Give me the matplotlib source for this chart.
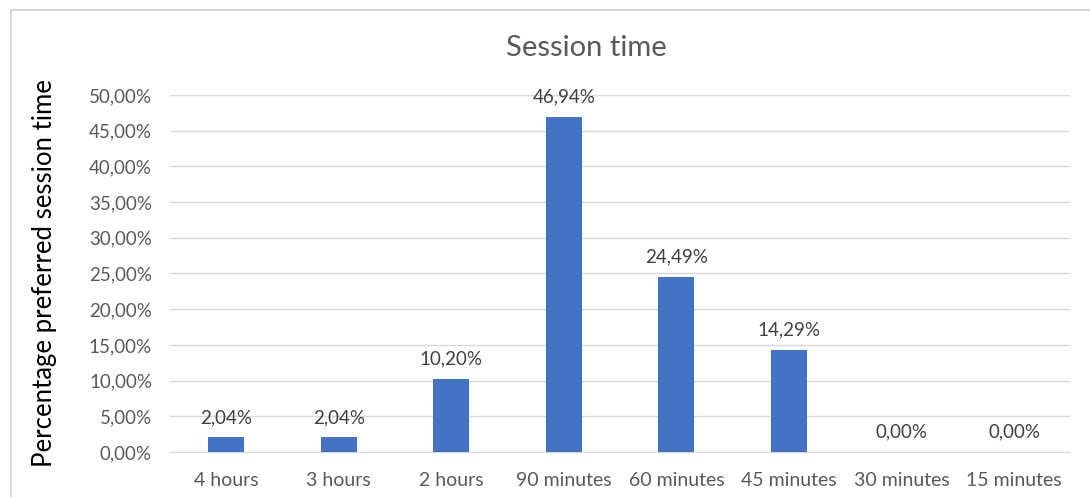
import matplotlib.pyplot as plt
from matplotlib.patches import Rectangle
from matplotlib.ticker import MultipleLocator, FuncFormatter

categories = ["4 hours", "3 hours", "2 hours", "90 minutes", "60 minutes",
              "45 minutes", "30 minutes", "15 minutes"]
values = [2.04, 2.04, 10.20, 46.94, 24.49, 14.29, 0.00, 0.00]

plt.rcParams['font.family'] = ['Lato', 'DejaVu Sans']

fig = plt.figure(figsize=(10.9, 4.97), dpi=100)
ax = fig.add_axes([0.156, 0.0905, 0.826, 0.7185])

# chart frame like the spreadsheet export
fig.patches.append(Rectangle((11 / 1090, -0.1), 1.2, 1.1 - 10 / 497,
                             transform=fig.transFigure, fill=False,
                             edgecolor="#d0d0d0", linewidth=1.2))

x = range(len(categories))
ax.bar(x, values, width=0.32, color="#4472c4", zorder=3)

for i, v in zip(x, values):
    ax.text(i, v + 1.6, f"{v:.2f}%".replace(".", ","), ha="center", va="bottom",
            fontsize=13.5, color="#404040")

ax.set_xlim(-0.5, len(categories) - 0.5)
ax.set_ylim(0, 50)
ax.yaxis.set_major_locator(MultipleLocator(5))
ax.yaxis.set_major_formatter(FuncFormatter(lambda v, p: f"{v:.2f}%".replace(".", ",")))
ax.set_xticks(list(x))
ax.set_xticklabels(categories)
ax.tick_params(axis="both", length=0, labelsize=13.5, labelcolor="#595959")
ax.tick_params(axis="x", labelsize=14, pad=14.5)
ax.tick_params(axis="y", pad=13)
ax.grid(axis="y", color="#d9d9d9", linewidth=1, zorder=0)
for s in ["top", "right", "left"]:
    ax.spines[s].set_visible(False)
ax.spines["bottom"].set_color("#d9d9d9")

ax.set_ylabel("Percentage preferred session time", fontsize=18.5, color="#000000")
ax.yaxis.set_label_coords((57 - 170) / (0.826 * 1090), 0.5)
fig.text(586 / 1090, 1 - 48 / 497, "Session time", ha="center", va="center",
         fontsize=21, color="#595959")

fig.savefig("out.png", dpi=100)
